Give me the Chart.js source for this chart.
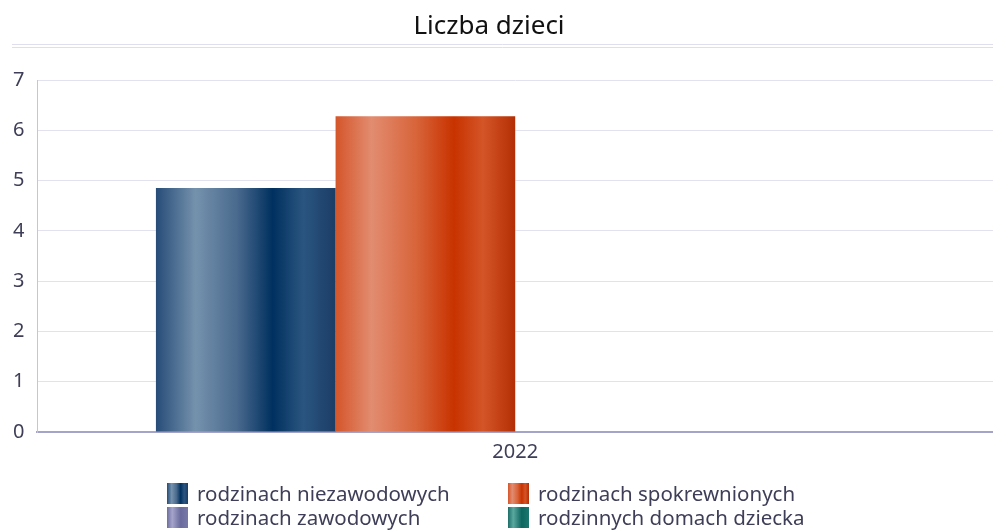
<!DOCTYPE html>
<html>
<head>
<meta charset="utf-8">
<script src="https://cdn.jsdelivr.net/npm/chart.js@4"></script>
<style>
  body { margin: 0; background: #fff; font-family: "Noto Sans", sans-serif; }
  .wrap { position: relative; width: 993px; height: 531px; }
  #legend { position: absolute; top: 482px; left: 167px; display: grid;
            grid-template-columns: 341px 300px; row-gap: 2px; }
  .item { display: flex; align-items: center; height: 22px; font-size: 20.5px; color: #3e3e58; }
  .box { width: 21px; height: 21px; margin-right: 9px; flex: none; }
</style>
</head>
<body>
<div class="wrap">
  <canvas id="myBarChart" width="993" height="531"></canvas>
  <div id="legend"></div>
</div>
<script>
var chartTitle = "Liczba dzieci";
var categories = ["2022"];
var seriesNames = ["rodzinach niezawodowych", "rodzinach spokrewnionych", "rodzinach zawodowych", "rodzinnych domach dziecka"];
var niezawodowych = [4.85];
var spokrewnionych = [6.28];
var zawodowych = [0];
var domachDziecka = [0];
var yTicks = [0, 1, 2, 3, 4, 5, 6, 7];

// gradient stops for each series (shiny cylinder look)
var stops = [
    [[0, "#264c78"], [0.22, "#7592ad"], [0.45, "#4a6a8e"], [0.65, "#00305f"], [0.82, "#2a5580"], [1, "#1b3d66"]],
    [[0, "#d4552a"], [0.2, "#e28c70"], [0.45, "#d8643a"], [0.66, "#c83200"], [0.82, "#d45528"], [1, "#b42e04"]],
    [[0, "#6e6ea0"], [0.25, "#a4a4cc"], [0.65, "#6a6a9c"], [1, "#7878a8"]],
    [[0, "#1e6e68"], [0.25, "#5aa8a0"], [0.65, "#0d6660"], [1, "#1a7770"]]
];
var flatColors = ["#1c4572", "#cf4a1c", "#7e7eb0", "#1a7770"];

function cssGradient(s) {
    return "linear-gradient(to right, " + s.map(function (p) { return p[1] + " " + (p[0] * 100) + "%"; }).join(", ") + ")";
}

var gradientBars = {
    id: 'gradientBars',
    beforeDatasetsDraw: function (chart) {
        var c = chart.ctx;
        chart.data.datasets.forEach(function (ds, i) {
            chart.getDatasetMeta(i).data.forEach(function (el) {
                var g = c.createLinearGradient(el.x - el.width / 2, 0, el.x + el.width / 2, 0);
                stops[i].forEach(function (p) { g.addColorStop(p[0], p[1]); });
                el.options.backgroundColor = g;
            });
        });
    }
};

// title text plus the double rule under it
var titleRule = {
    id: 'titleRule',
    afterDraw: function (chart) {
        var c = chart.ctx;
        c.save();
        c.fillStyle = "#111";
        c.font = "26px 'Noto Sans'";
        c.textAlign = "center";
        c.textBaseline = "middle";
        c.fillText(chartTitle, 489, 27);
        c.strokeStyle = "#dedeee";
        c.lineWidth = 1;
        [44.5, 47.5].forEach(function (y) {
            c.beginPath();
            c.moveTo(12, y);
            c.lineTo(993, y);
            c.stroke();
        });
        c.restore();
    }
};

var ctx = document.getElementById('myBarChart').getContext('2d');
var chart = new Chart(ctx, {
    type: 'bar',
    data: {
        labels: categories,
        datasets: [
            { label: seriesNames[0], data: niezawodowych, backgroundColor: flatColors[0] },
            { label: seriesNames[1], data: spokrewnionych, backgroundColor: flatColors[1] },
            { label: seriesNames[2], data: zawodowych, backgroundColor: flatColors[2] },
            { label: seriesNames[3], data: domachDziecka, backgroundColor: flatColors[3] }
        ]
    },
    options: {
        responsive: false,
        animation: false,
        layout: { padding: { left: 0, right: -10, top: 80, bottom: 67 } },
        datasets: { bar: { barPercentage: 1, categoryPercentage: 0.752, borderWidth: 0 } },
        plugins: {
            legend: { display: false },
            tooltip: { enabled: false },
            title: { display: false }
        },
        scales: {
            x: {
                grid: { display: false },
                border: { color: "#a4a4c8", width: 2 },
                ticks: { color: "#3e3e58", font: { family: "Noto Sans", size: 20 }, padding: 0 }
            },
            y: {
                min: 0,
                max: 7,
                afterBuildTicks: function (axis) { axis.ticks = yTicks.map(function (v) { return { value: v }; }); },
                grid: { color: "#e2e2ee", drawTicks: false },
                border: { color: "#c4c4dc", width: 1 },
                ticks: { color: "#3e3e58", font: { family: "Noto Sans", size: 20 }, padding: 13 }
            }
        }
    },
    plugins: [gradientBars, titleRule]
});

// html legend in two columns, filled column by column
var legend = document.getElementById('legend');
var order = [0, 2, 1, 3];
seriesNames.forEach(function (name, i) {
    var item = document.createElement('div');
    item.className = 'item';
    var k = order[i];
    item.style.gridColumn = (k < 2) ? 1 : 2;
    item.style.gridRow = (k % 2) + 1;
    item.innerHTML = '<span class="box" style="background:' + cssGradient(stops[i]) + '"></span>' + name;
    legend.appendChild(item);
});
</script>
</body>
</html>
